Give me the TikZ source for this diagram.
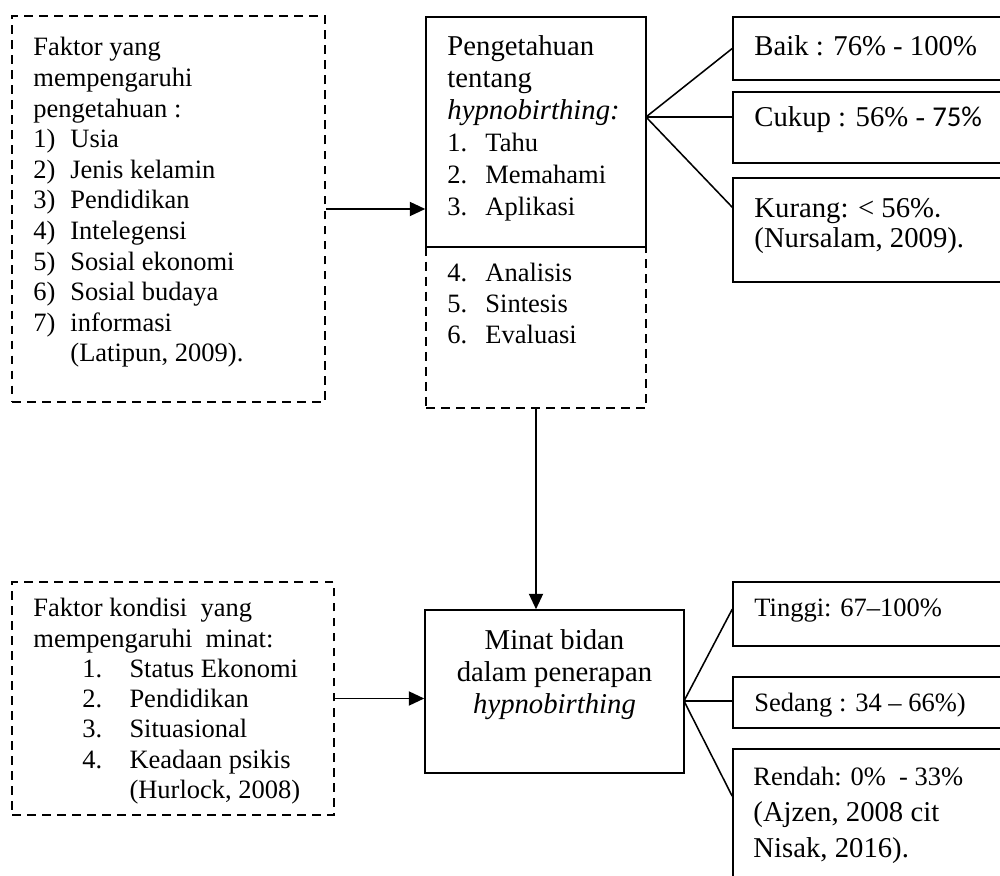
\documentclass[tikz,border=0pt]{standalone}
\usepackage{fontspec}
\setmainfont{Liberation Serif}
\newfontfamily\calibfont{Carlito}
\usetikzlibrary{arrows.meta,fit,calc}
\newcommand{\numbox}[2]{\makebox[#1][l]{#2}}
\newcommand{\bigsz}{\fontsize{13}{14.5}\selectfont}
\begin{document}
\begin{tikzpicture}[x=0.4528pt,y=-0.4528pt,
  solidbox/.style={draw, line width=0.7pt, inner sep=0pt},
  dashbox/.style={draw, line width=1pt, dash pattern=on 4pt off 2.8pt, inner sep=0pt},
  txt/.style={inner sep=0pt, anchor=north west, align=left, font=\fontsize{12}{13.86}\selectfont},
  txtb/.style={inner sep=0pt, anchor=north west, align=left, font=\fontsize{13}{14.2}\selectfont},
  arr/.style={-{Triangle[length=7pt,width=6.4pt]}, line width=0.7pt},
  fan/.style={line width=0.7pt}]
\useasboundingbox (0,0) rectangle (1000,876);

% ---------- boxes ----------
\node[dashbox, fit={(12,16) (325,402)}] (A) {};
\node[solidbox, fit={(426,17) (646,247)}] (B) {};
\node[dashbox, fit={(426,247) (646,408)}] (C) {};
\node[solidbox, fit={(733,17) (1010,80)}] (baik) {};
\node[solidbox, fit={(733,92) (1010,163)}] (cukup) {};
\node[solidbox, fit={(733,178) (1010,282)}] (kurang) {};

\node[dashbox, fit={(12,582) (334,815)}] (D) {};
\node[solidbox, fit={(425,610) (684,773)}] (E) {};
\node[solidbox, fit={(733,582) (1010,646)}] (tinggi) {};
\node[solidbox, fit={(733,677) (1010,728)}] (sedang) {};
\node[solidbox, fit={(733,749) (1010,900)}] (rendah) {};

% ---------- texts ----------
\node[txt] (At) at (33,37) {Faktor yang\\mempengaruhi\\pengetahuan :\\
\numbox{16.75pt}{1)}Usia\\
\numbox{16.75pt}{2)}Jenis kelamin\\
\numbox{16.75pt}{3)}Pendidikan\\
\numbox{16.75pt}{4)}Intelegensi\\
\numbox{16.75pt}{5)}Sosial ekonomi\\
\numbox{16.75pt}{6)}Sosial budaya\\
\numbox{16.75pt}{7)}informasi\\
\hspace*{16.75pt}(Latipun, 2009).};

\node[txt, font=\fontsize{12}{14.5}\selectfont] (Bt) at (447,35.5) {{\bigsz Pengetahuan}\\{\bigsz tentang}\\{\bigsz\textit{hypnobirthing:}}\\
\numbox{17.2pt}{1.}Tahu\\
\numbox{17.2pt}{2.}Memahami\\
\numbox{17.2pt}{3.}Aplikasi};

\node[txt] (Ct) at (447,263) {\numbox{17.2pt}{4.}Analisis\\
\numbox{17.2pt}{5.}Sintesis\\
\numbox{17.2pt}{6.}Evaluasi};

\node[txtb] (baikt) at (754,35.5) {Baik : 76\% - 100\%};
\node[txtb] (cukupt) at (754,106.5) {Cukup : 56\% - {\calibfont 75\%}};
\node[txtb, font=\fontsize{13}{13.6}\selectfont] (kurangt) at (754,198) {Kurang: < 56\%{\calibfont .}\\(Nursalam, 2009).};

\node[txt, font=\fontsize{12}{13.7}\selectfont] (Dt) at (33,598) {Faktor kondisi\ \ yang\\mempengaruhi\ \ minat:\\
\hspace*{22.2pt}\numbox{21.3pt}{1.}Status Ekonomi\\
\hspace*{22.2pt}\numbox{21.3pt}{2.}Pendidikan\\
\hspace*{22.2pt}\numbox{21.3pt}{3.}Situasional\\
\hspace*{22.2pt}\numbox{21.3pt}{4.}Keadaan psikis\\
\hspace*{43.5pt}(Hurlock, 2008)};

\node[txtb, anchor=north, align=center, font=\fontsize{13}{14.5}\selectfont] (Et) at (554.5,629.5) {Minat bidan\\dalam penerapan\\\textit{hypnobirthing}};

\node[txt] (tinggit) at (754,598) {Tinggi: 67--100\%};
\node[txt] (sedangt) at (754,693) {Sedang : 34 -- 66\%)};
\node[txtb, font=\fontsize{13}{16.3}\selectfont] (rendaht) at (753,767) {{\fontsize{12}{16.3}\selectfont Rendah: 0\%\ \ - 33\%}\\(Ajzen, 2008 cit\\Nisak, 2016).};

% ---------- connectors ----------
\draw[arr] (A.east) -- (A.east -| B.west);
\draw[arr] (C.south) -- (C.south |- E.north);
\draw[arr] (D.east) -- (D.east -| E.west);

\coordinate (bfan) at (646,117);
\draw[fan] (bfan) -- (baik.west);
\draw[fan] (bfan) -- (bfan -| cukup.west);
\draw[fan] (bfan) -- ($(kurang.north west)+(0,30)$);

\coordinate (efan) at (684,701);
\draw[fan] (efan) -- ($(tinggi.north west)+(0,28)$);
\draw[fan] (efan) -- (efan -| sedang.west);
\draw[fan] (efan) -- ($(rendah.north west)+(0,48)$);
\end{tikzpicture}
\end{document}
